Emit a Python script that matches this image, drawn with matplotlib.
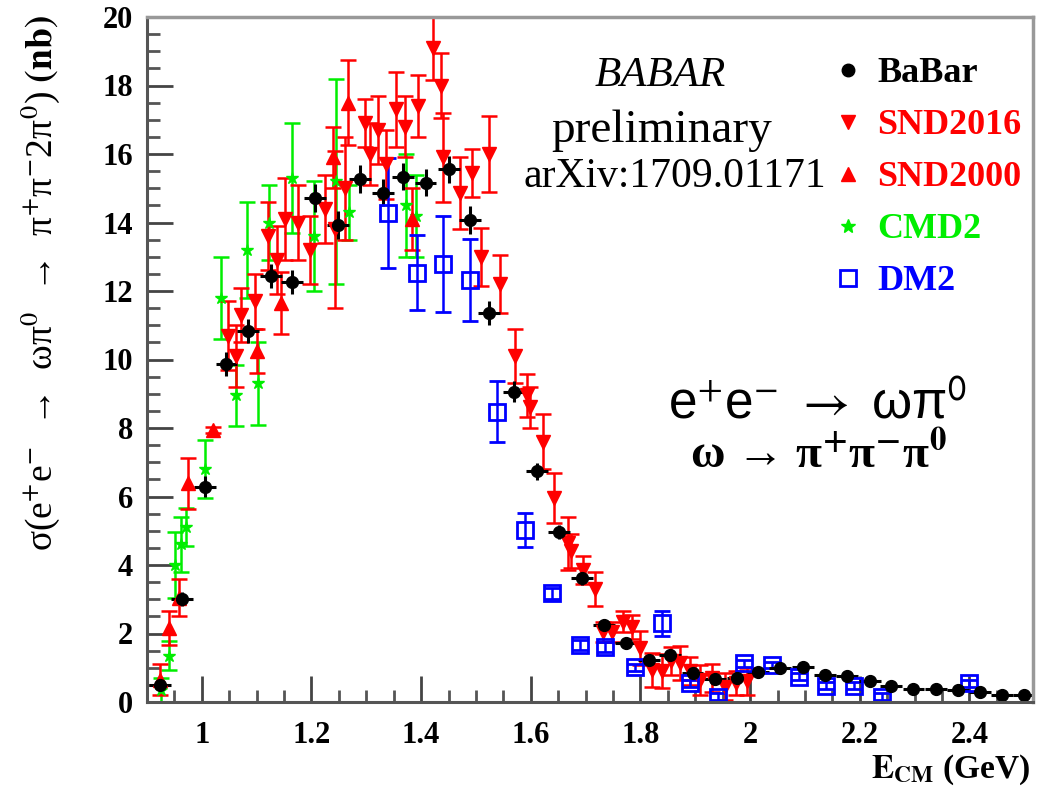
import matplotlib
matplotlib.use("Agg")
import matplotlib.pyplot as plt
from matplotlib.lines import Line2D
from matplotlib.ticker import MultipleLocator

plt.rcParams['mathtext.fontset'] = 'stix'
SERIF = 'Liberation Serif'

# BaBar preliminary
babar_e = [0.923, 0.963, 1.005, 1.045, 1.085, 1.127, 1.165, 1.207, 1.248, 1.288,
           1.33, 1.367, 1.408, 1.45, 1.489, 1.524, 1.57, 1.612, 1.651, 1.693,
           1.734, 1.773, 1.816, 1.854, 1.895, 1.936, 1.977, 2.015, 2.055, 2.096,
           2.136, 2.176, 2.218, 2.257, 2.298, 2.339, 2.379, 2.42, 2.459, 2.5]
babar_v = [0.5, 3.0, 6.29, 9.87, 10.83, 12.44, 12.27, 14.72, 13.93, 15.27,
           14.87, 15.34, 15.16, 15.55, 14.07, 11.35, 9.06, 6.74, 4.97, 3.61,
           2.25, 1.71, 1.23, 1.37, 0.84, 0.66, 0.70, 0.89, 0.98, 1.01,
           0.79, 0.77, 0.62, 0.47, 0.37, 0.37, 0.34, 0.28, 0.20, 0.19]
babar_err = [0.15, 0.2, 0.3, 0.35, 0.35, 0.35, 0.35, 0.4, 0.4, 0.4,
             0.4, 0.4, 0.4, 0.4, 0.4, 0.35, 0.3, 0.25, 0.2, 0.2,
             0.15, 0.15, 0.12, 0.12, 0.1, 0.1, 0.1, 0.1, 0.1, 0.1,
             0.08, 0.08, 0.08, 0.07, 0.06, 0.06, 0.05, 0.05, 0.05, 0.05]
babar_xerr = 0.02

# SND 2016
snd16_e = [1.048, 1.062, 1.072, 1.097, 1.121, 1.138, 1.151, 1.176, 1.198, 1.224,
           1.243, 1.262, 1.297, 1.306, 1.322, 1.336, 1.355, 1.37, 1.395, 1.422,
           1.436, 1.44, 1.471, 1.492, 1.51, 1.524, 1.544, 1.571, 1.593, 1.599,
           1.623, 1.642, 1.668, 1.673, 1.696, 1.717, 1.732, 1.748, 1.769, 1.784,
           1.80, 1.821, 1.839, 1.855, 1.872, 1.89, 1.909, 1.93, 1.954, 1.975, 1.994]
snd16_v = [10.7, 10.1, 11.3, 11.7, 13.6, 12.9, 14.1, 14.0, 13.2, 14.4,
           13.8, 15.0, 16.9, 16.0, 16.7, 15.7, 17.3, 16.8, 17.4, 19.1,
           18.0, 15.9, 14.85, 15.44, 13.0, 16.0, 12.2, 10.1, 8.96, 8.6,
           7.6, 5.95, 4.63, 4.4, 3.85, 3.3, 2.05, 2.05, 2.35, 2.2,
           1.57, 0.93, 0.9, 1.2, 1.13, 0.9, 0.64, 0.7, 0.45, 0.55, 0.6]
snd16_err = [1.0, 0.9, 0.8, 0.8, 1.0, 1.0, 1.2, 1.1, 1.0, 1.0,
             2.3, 1.5, 0.7, 0.9, 1.0, 1.0, 1.1, 0.9, 0.9, 0.95,
             0.95, 1.3, 1.05, 0.7, 0.85, 1.1, 0.85, 0.8, 0.63, 0.6,
             0.8, 0.73, 0.78, 0.5, 0.4, 0.5, 0.3, 0.3, 0.3, 0.35,
             0.5, 0.5, 0.5, 0.4, 0.5, 0.4, 0.45, 0.4, 0.4, 0.35, 0.4]

# SND 2000
snd00_e = [0.923, 0.94, 0.958, 0.975, 1.021, 1.10, 1.145, 1.24, 1.266, 1.383]
snd00_v = [0.65, 2.15, 3.05, 6.38, 7.94, 10.25, 11.65, 15.9, 17.5, 14.1]
snd00_err = [0.45, 0.5, 0.55, 0.75, 0.1, 0.65, 0.9, 0.9, 1.25, 0.9]

# CMD-2
cmd2_e = [0.925, 0.94, 0.951, 0.962, 0.972, 1.005, 1.035, 1.063, 1.082, 1.103,
          1.123, 1.164, 1.205, 1.245, 1.268, 1.373, 1.39]
cmd2_v = [0.35, 1.35, 4.0, 4.6, 5.1, 6.8, 11.8, 8.95, 13.2, 9.3,
          14.0, 15.3, 13.6, 15.2, 14.3, 14.5, 14.2]
cmd2_err = [0.35, 0.42, 0.95, 0.8, 0.55, 0.85, 1.2, 0.9, 1.4, 1.2,
            1.1, 1.6, 1.6, 3.0, 0.8, 1.5, 1.2]

# DM2
dm2_e = [1.34, 1.392, 1.439, 1.489, 1.539, 1.589, 1.638, 1.69, 1.735, 1.79,
         1.839, 1.89, 1.942, 1.988, 2.04, 2.09, 2.139, 2.19, 2.24, 2.4]
dm2_v = [14.27, 12.54, 12.78, 12.32, 8.48, 5.02, 3.17, 1.66, 1.61, 1.01,
         2.3, 0.55, 0.16, 1.13, 1.08, 0.74, 0.47, 0.48, 0.16, 0.55]
dm2_err = [1.6, 1.1, 1.4, 1.2, 0.9, 0.5, 0.15, 0.15, 0.15, 0.1,
           0.37, 0.1, 0.1, 0.1, 0.1, 0.1, 0.1, 0.1, 0.1, 0.1]

xticks = [1.0, 1.2, 1.4, 1.6, 1.8, 2.0, 2.2, 2.4]
xtick_labels = ['1', '1.2', '1.4', '1.6', '1.8', '2', '2.2', '2.4']
yticks = [0, 2, 4, 6, 8, 10, 12, 14, 16, 18, 20]

RED = '#ff0000'
GREEN = '#00ee00'
BLUE = '#0000ff'

fig = plt.figure(figsize=(10.38, 7.95), dpi=100)
ax = fig.add_axes([147/1038, 93/795, 886/1038, 685/795])

eb = dict(linestyle='none', elinewidth=1.8, capsize=5.5, capthick=1.8)
ax.errorbar(cmd2_e, cmd2_v, yerr=cmd2_err, fmt='*', color=GREEN, ms=9, **eb)
ax.errorbar(snd00_e, snd00_v, yerr=snd00_err, fmt='^', color=RED, ms=10, **eb)
ax.errorbar(snd16_e, snd16_v, yerr=snd16_err, fmt='v', color=RED, ms=10, **eb)
ax.errorbar(dm2_e, dm2_v, yerr=dm2_err, fmt='s', color=BLUE, mfc='none', mew=2.0, ms=11, **eb)
ax.errorbar(babar_e, babar_v, yerr=babar_err, xerr=babar_xerr, fmt='o', color='black',
            ms=8.5, linestyle='none', elinewidth=2.2, capsize=0)

ax.set_xlim(0.9, 2.516)
ax.set_ylim(0, 20)
ax.set_xticks(xticks)
ax.set_xticklabels(xtick_labels)
ax.set_yticks(yticks)
ax.xaxis.set_minor_locator(MultipleLocator(0.05))
ax.yaxis.set_minor_locator(MultipleLocator(0.5))
ax.tick_params(which='major', direction='in', length=19, width=2, color='#444444',
               pad=10, labelsize=22, top=False, right=False)
ax.tick_params(which='minor', direction='in', length=9, width=2, color='#555555',
               top=False, right=False)
ax.tick_params(axis='x', which='major', pad=14)
for lab in ax.get_xticklabels() + ax.get_yticklabels():
    lab.set_fontfamily(SERIF)
    lab.set_fontweight('bold')
for side in ['left', 'bottom']:
    ax.spines[side].set_color('#555555')
    ax.spines[side].set_linewidth(2.2)
for side in ['top', 'right']:
    ax.spines[side].set_color('#999999')
    ax.spines[side].set_linewidth(2.5)

# axis titles
fig.text(1030/1038, 1 - 778/795, r'$\mathbf{E}_{\mathbf{CM}}$ (GeV)', ha='right',
         va='baseline', fontsize=24, fontweight='bold', family=SERIF)
fig.text(40/1038, 1 - 15/795,
         r'σ(e$^{+}$e$^{-}$  →  ωπ$^{0}$  →  π$^{+}$π$^{-}$2π$^{0}$) $\mathbf{(nb)}$',
         rotation=90, ha='center', va='top', fontsize=27, family=SERIF)

# annotation block
fig.text(660/1038, 1 - 76/795, 'BABAR', ha='center', va='center', fontsize=31,
         style='italic', family=SERIF)
fig.text(662/1038, 1 - 131/795, 'preliminary', ha='center', va='center', fontsize=34,
         family=SERIF)
fig.text(675/1038, 1 - 177/795, 'arXiv:1709.01171', ha='center', va='center',
         fontsize=30, family=SERIF)

fig.text(668/1038, 1 - 405/795,
         r'e$^{\mathsf{+}}$e$^{\mathsf{-}}$ $\rightarrow$ ωπ$^{\mathsf{0}}$',
         ha='left', va='center', fontsize=37, family='Liberation Sans')
fig.text(690/1038, 1 - 455/795, r'ω → π$^{\mathbf{+}}$π$^{\mathbf{-}}$π$^{\mathbf{0}}$',
         ha='left', va='center', fontsize=34, fontweight='bold', family=SERIF)

# legend
handles = [
    Line2D([], [], marker='o', color='black', ls='none', ms=9),
    Line2D([], [], marker='v', color=RED, ls='none', ms=10),
    Line2D([], [], marker='^', color=RED, ls='none', ms=10),
    Line2D([], [], marker='*', color=GREEN, ls='none', ms=10),
    Line2D([], [], marker='s', color=BLUE, mfc='none', mew=2, ls='none', ms=11),
]
labels = ['BaBar', 'SND2016', 'SND2000', 'CMD2', 'DM2']
ax.legend(handles, labels, loc='upper left', bbox_to_anchor=(0.775, 1 - 40/685),
          frameon=False, handlelength=0.8, handletextpad=0.4, labelspacing=0.52,
          borderaxespad=0, borderpad=0,
          labelcolor=['black', RED, RED, GREEN, BLUE],
          prop={'family': SERIF, 'weight': 'bold', 'size': 26})

fig.savefig('out.png', dpi=100)
